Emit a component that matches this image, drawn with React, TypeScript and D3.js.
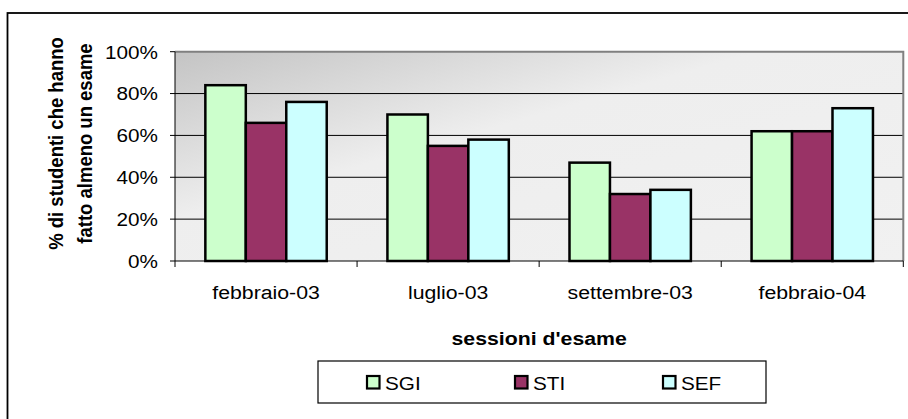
import React from "react";
import * as d3 from "d3";

const categories = ["febbraio-03", "luglio-03", "settembre-03", "febbraio-04"];
const seriesNames = ["SGI", "STI", "SEF"];
const sgiValues = [0.84, 0.70, 0.47, 0.62];
const stiValues = [0.66, 0.55, 0.32, 0.62];
const sefValues = [0.76, 0.58, 0.34, 0.73];
const seriesColors = ["#CCFFCC", "#993366", "#CCFFFF"];
const yTicks = [0, 0.2, 0.4, 0.6, 0.8, 1];
const yTitleLines = ["% di studenti che hanno", "fatto almeno un esame"];
const xTitle = "sessioni d'esame";

const W = 908;
const H = 419;
const PL = 175, PR = 903.3, PT = 51.7, PB = 261;
const SX = 1.12;
const FONT = "'Liberation Sans', Arial, Helvetica, sans-serif";

function SText(props: any) {
  const { x, y, rotate, children, ...rest } = props;
  const tr = `translate(${x},${y}) scale(${SX},1)` + (rotate ? ` rotate(${rotate})` : "");
  return (
    <text transform={tr} fontFamily={FONT} {...rest}>
      {children}
    </text>
  );
}

export default function App() {
  const seriesValues = [sgiValues, stiValues, sefValues];
  const x0 = d3.scaleBand<string>().domain(categories).range([PL, PR]).paddingInner(0).paddingOuter(0);
  const x1 = d3.scaleBand<string>().domain(seriesNames).range([0, x0.bandwidth()]).paddingInner(0).paddingOuter(0.75);
  const y = d3.scaleLinear().domain([0, 1]).range([PB, PT]);
  const fmt = d3.format(".0%");

  const catBoundaries = [PL, ...categories.map((c) => (x0(c) as number) + x0.bandwidth())];

  return (
    <svg width={W} height={H} style={{ position: "absolute", left: 0, top: 0, background: "#fff" }}>
      <defs>
        <linearGradient id="bg" x1="0" y1="0" x2="1" y2="1">
          <stop offset="0" stopColor="#c4c4c4" />
          <stop offset="0.4" stopColor="#eeeeee" />
          <stop offset="1" stopColor="#f1f1f1" />
        </linearGradient>
      </defs>
      {/* outer frame */}
      <rect x={7.5} y={13} width={W + 20} height={H + 20} fill="#fff" stroke="#000" strokeWidth={1.8} />

      {/* plot area */}
      <rect x={PL} y={PT} width={PR - PL} height={PB - PT} fill="url(#bg)" />
      {yTicks.filter((t) => t > 0 && t < 1).map((t) => (
        <line key={t} x1={PL} x2={PR} y1={y(t)} y2={y(t)} stroke="#000" strokeWidth={1} />
      ))}
      <polyline points={`${PL},${PT} ${PR},${PT} ${PR},${PB}`} fill="none" stroke="#808080" strokeWidth={2} />

      {/* bars */}
      {categories.map((c, ci) =>
        seriesNames.map((s, si) => {
          const v = seriesValues[si][ci];
          const bx = (x0(c) as number) + (x1(s) as number);
          return (
            <rect
              key={c + s}
              x={bx}
              y={y(v)}
              width={x1.bandwidth()}
              height={y(0) - y(v)}
              fill={seriesColors[si]}
              stroke="#000"
              strokeWidth={2.5}
            />
          );
        })
      )}

      {/* axes */}
      <line x1={PL} x2={PL} y1={PT} y2={PB} stroke="#000" strokeWidth={1} />
      <line x1={PL} x2={PR} y1={PB} y2={PB} stroke="#000" strokeWidth={1.2} />
      {yTicks.map((t) => (
        <g key={t}>
          <line x1={PL - 5} x2={PL} y1={y(t)} y2={y(t)} stroke="#000" strokeWidth={1} />
          <SText x={158} y={y(t) + 6.8} fontSize={18.5} textAnchor="end" fill="#000">
            {fmt(t)}
          </SText>
        </g>
      ))}
      {catBoundaries.map((bx, i) => (
        <line key={i} x1={bx} x2={bx} y1={PB} y2={PB + 6} stroke="#000" strokeWidth={1} />
      ))}
      {categories.map((c) => (
        <SText key={c} x={(x0(c) as number) + x0.bandwidth() / 2} y={299} fontSize={19} textAnchor="middle" fill="#000">
          {c}
        </SText>
      ))}

      {/* axis titles */}
      <SText x={(PL + PR) / 2} y={345} fontSize={19} fontWeight="bold" textAnchor="middle" fill="#000">
        {xTitle}
      </SText>
      {yTitleLines.map((l, i) => (
        <SText key={l} x={62.5 + i * 29} y={143.5} rotate={-90} fontSize={18.5} fontWeight="bold" textAnchor="middle" fill="#000">
          {l}
        </SText>
      ))}

      {/* legend */}
      <rect x={318} y={361} width={448} height={42} fill="#fff" stroke="#000" strokeWidth={1.2} />
      {seriesNames.map((s, i) => {
        const lx = 366 + i * 148;
        return (
          <g key={s}>
            <rect x={lx + 1} y={376} width={12.5} height={12.5} fill={seriesColors[i]} stroke="#000" strokeWidth={2.2} />
            <SText x={lx + 19} y={389.5} fontSize={18.5} fill="#000">
              {s}
            </SText>
          </g>
        );
      })}
    </svg>
  );
}
